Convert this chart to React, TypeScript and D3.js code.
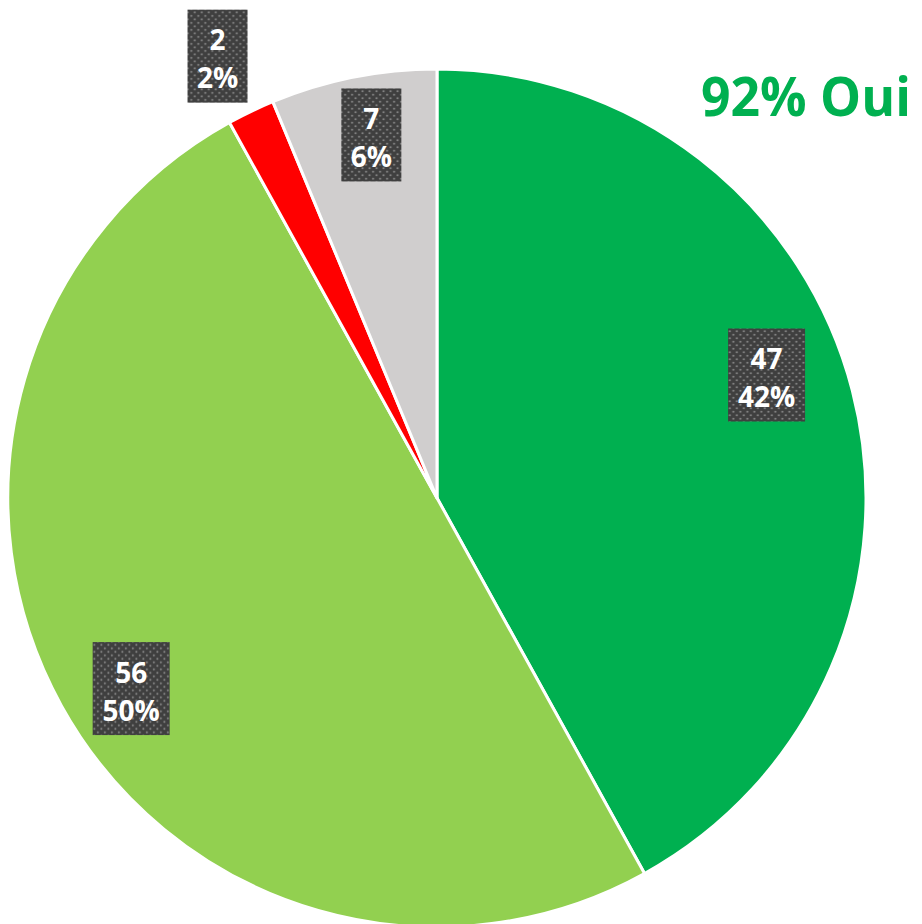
import React from "react";
import * as d3 from "d3";

const categories = ["Oui, tout à fait", "Oui, plutôt", "Non", "Sans réponse"];
const values = [47, 56, 2, 7];
const percentLabels = ["42%", "50%", "2%", "6%"];
const colors = ["#00B050", "#92D050", "#FF0000", "#D0CECE"];
const headline = "92% Oui";

// label layout (radius as fraction of pie radius, angular nudge in degrees)
const labelRadius = [0.82, 0.84, 1.15, 0.86];
const labelNudge = [-6, -3, -0.7, 1];

export default function App() {
  const W = 922, H = 924;
  const cx = 437, cy = 498, r = 429;
  const pie = d3.pie<number>().sort(null).value((d) => d)(values);
  const arc = d3.arc<d3.PieArcDatum<number>>().innerRadius(0).outerRadius(r);
  return (
    <svg width={W} height={H} style={{ position: "absolute", left: 0, top: 0, background: "#fff" }}>
      <defs>
        <pattern id="dots" width="7" height="7" patternUnits="userSpaceOnUse">
          <rect width="7" height="7" fill="#3f3f3f" />
          <circle cx="1.75" cy="1.75" r="1" fill="#8c8c8c" />
          <circle cx="5.25" cy="5.25" r="1" fill="#8c8c8c" />
        </pattern>
      </defs>
      <g transform={`translate(${cx},${cy})`}>
        {pie.map((p, i) => (
          <path key={categories[i]} d={arc(p) || ""} fill={colors[i]} stroke="#fff" strokeWidth={3} strokeLinejoin="round" />
        ))}
        {pie.map((p, i) => {
          const mid = (p.startAngle + p.endAngle) / 2 + (labelNudge[i] * Math.PI) / 180;
          const rr = r * labelRadius[i];
          const x = rr * Math.sin(mid);
          const y = -rr * Math.cos(mid);
          const t1 = String(values[i]);
          const t2 = percentLabels[i];
          const bw = t2.length >= 3 ? 77 : 60;
          const bh = 93;
          return (
            <g key={"l" + i} transform={`translate(${x},${y})`}>
              <rect x={-bw / 2} y={-bh / 2} width={bw} height={bh} fill="url(#dots)" />
              <text x={0} y={-6} textAnchor="middle" fill="#fff" fontFamily="'Open Sans', sans-serif" fontWeight={700} fontSize={28}>{t1}</text>
              <text x={0} y={32} textAnchor="middle" fill="#fff" fontFamily="'Open Sans', sans-serif" fontWeight={700} fontSize={28}>{t2}</text>
            </g>
          );
        })}
      </g>
      <text x={701} y={116} fill="#00B050" fontFamily="'Open Sans', sans-serif" fontWeight={700} fontSize={54} textLength={210} lengthAdjust="spacingAndGlyphs">{headline}</text>
    </svg>
  );
}
